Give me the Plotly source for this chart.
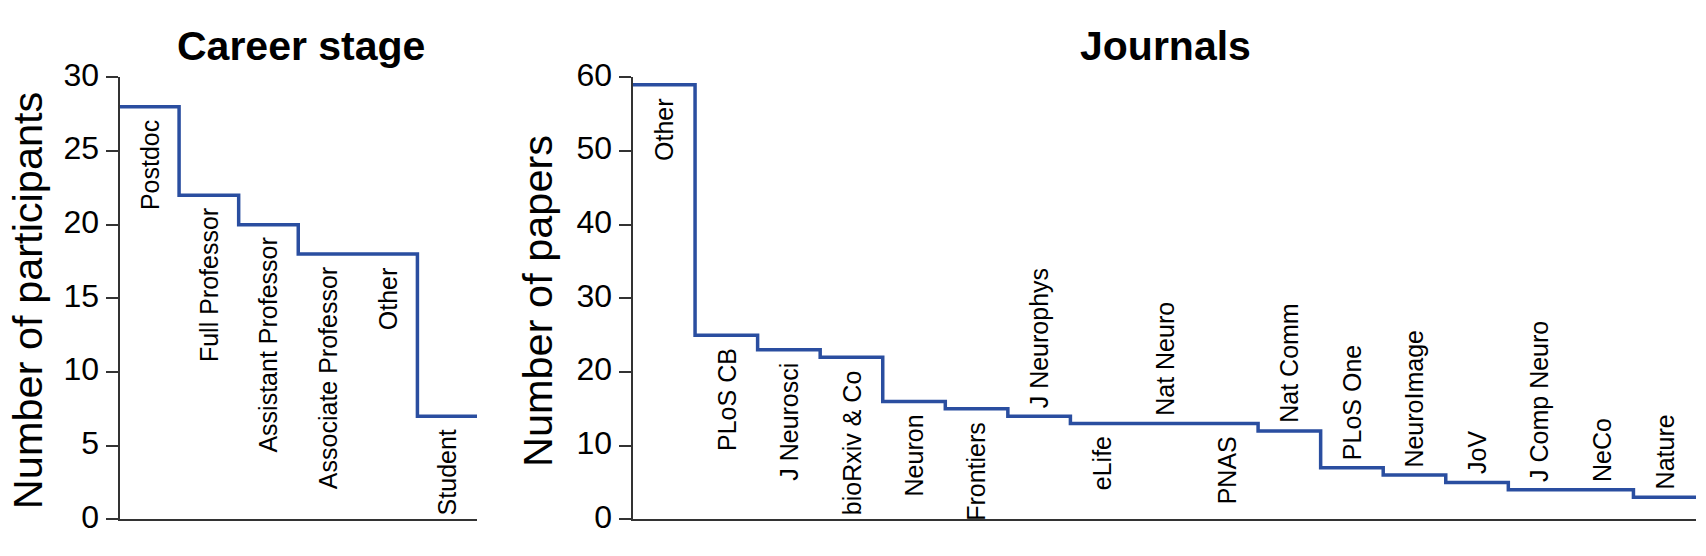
import plotly.graph_objects as go

W, H = 1706, 556

career_stages = ["Postdoc", "Full Professor", "Assistant Professor",
                 "Associate Professor", "Other", "Student"]
career_counts = [28, 22, 20, 18, 18, 7]

journals = ["Other", "PLoS CB", "J Neurosci", "bioRxiv & Co", "Neuron", "Frontiers",
            "J Neurophys", "eLife", "Nat Neuro", "PNAS", "Nat Comm", "PLoS One",
            "NeuroImage", "JoV", "J Comp Neuro", "NeCo", "Nature"]
journal_counts = [59, 25, 23, 22, 16, 15, 14, 13, 13, 13, 12, 7, 6, 5, 4, 4, 3]

career_yticks = [0, 5, 10, 15, 20, 25, 30]
journal_yticks = [0, 10, 20, 30, 40, 50, 60]

# label placement style (below / above the step)
career_place = ["below"] * len(career_stages)
journal_place = ["below", "below", "below", "below", "below", "below",
                 "above", "below", "above", "below", "above", "above",
                 "above", "above", "above", "above", "above"]

FONT = "Liberation Sans, Arial, Helvetica, sans-serif"
LINE_COLOR = "#2a4ea0"
AX_COLOR = "#333333"

def px_x(p):
    return p / W

def px_y(p):
    return 1 - p / H

fig = go.Figure()

def step_xy(vals):
    xs = list(range(len(vals) + 1))
    ys = list(vals) + [vals[-1]]
    return xs, ys

cx, cy = step_xy(career_counts)
fig.add_trace(go.Scatter(x=cx, y=cy, mode="lines", line=dict(shape="hv", color=LINE_COLOR, width=3.5),
                         xaxis="x", yaxis="y", cliponaxis=False, hoverinfo="skip", showlegend=False))
jx, jy = step_xy(journal_counts)
fig.add_trace(go.Scatter(x=jx, y=jy, mode="lines", line=dict(shape="hv", color=LINE_COLOR, width=3.5),
                         xaxis="x2", yaxis="y2", cliponaxis=False, hoverinfo="skip", showlegend=False))

ydom = [px_y(532.8), px_y(60.2)]
xax = dict(showline=True, linecolor=AX_COLOR, linewidth=2, ticks="", showticklabels=False,
           showgrid=False, zeroline=False, fixedrange=True)
yax = dict(showline=True, linecolor=AX_COLOR, linewidth=2, ticks="outside", ticklen=12,
           tickwidth=2, tickcolor=AX_COLOR, showgrid=False, zeroline=False,
           ticklabelshift=-3,
           tickfont=dict(family=FONT, size=32, color="black"), domain=ydom, fixedrange=True)

fig.update_layout(
    width=W, height=H, margin=dict(l=0, r=0, t=0, b=0),
    paper_bgcolor="white", plot_bgcolor="white",
    xaxis=dict(xax, domain=[px_x(119.5), px_x(477)], range=[0, len(career_counts)], anchor="y"),
    yaxis=dict(yax, range=[0, 30], tickvals=career_yticks, anchor="x"),
    xaxis2=dict(xax, domain=[px_x(632.5), px_x(1696)], range=[0, len(journal_counts)], anchor="y2"),
    yaxis2=dict(yax, range=[0, 60], tickvals=journal_yticks, anchor="x2"),
    showlegend=False,
)

ann = []
def add_labels(names, vals, places, xr, yr):
    for i, (n, v, p) in enumerate(zip(names, vals, places)):
        if p == "below":
            ann.append(dict(x=i + 0.5, y=v, xref=xr, yref=yr, text=n, textangle=-90,
                            showarrow=False, xanchor="center", yanchor="top", yshift=-11,
                            font=dict(family=FONT, size=25, color="black")))
        else:
            ann.append(dict(x=i + 0.5, y=v, xref=xr, yref=yr, text=n, textangle=-90,
                            showarrow=False, xanchor="center", yanchor="bottom", yshift=6,
                            font=dict(family=FONT, size=25, color="black")))

add_labels(career_stages, career_counts, career_place, "x", "y")
add_labels(journals, journal_counts, journal_place, "x2", "y2")

# titles
ann.append(dict(x=px_x(301), y=px_y(26.8), xref="paper", yref="paper", text="<b>Career stage</b>",
                showarrow=False, xanchor="center", yanchor="middle",
                font=dict(family=FONT, size=41, color="black")))
ann.append(dict(x=px_x(1165), y=px_y(26.8), xref="paper", yref="paper", text="<b>Journals</b>",
                showarrow=False, xanchor="center", yanchor="middle",
                font=dict(family=FONT, size=41, color="black")))
# axis titles
ann.append(dict(x=px_x(27.5), y=px_y(299), xref="paper", yref="paper", text="Number of participants",
                textangle=-90, showarrow=False, xanchor="center", yanchor="middle",
                font=dict(family=FONT, size=41.5, color="black")))
ann.append(dict(x=px_x(537.5), y=px_y(300), xref="paper", yref="paper", text="Number of papers",
                textangle=-90, showarrow=False, xanchor="center", yanchor="middle",
                font=dict(family=FONT, size=41.5, color="black")))

fig.update_layout(annotations=ann)
fig.write_html("out.html",
               config={"displayModeBar": False, "staticPlot": True},
               post_script="document.body.style.margin='0px';document.body.style.overflow='hidden';")
